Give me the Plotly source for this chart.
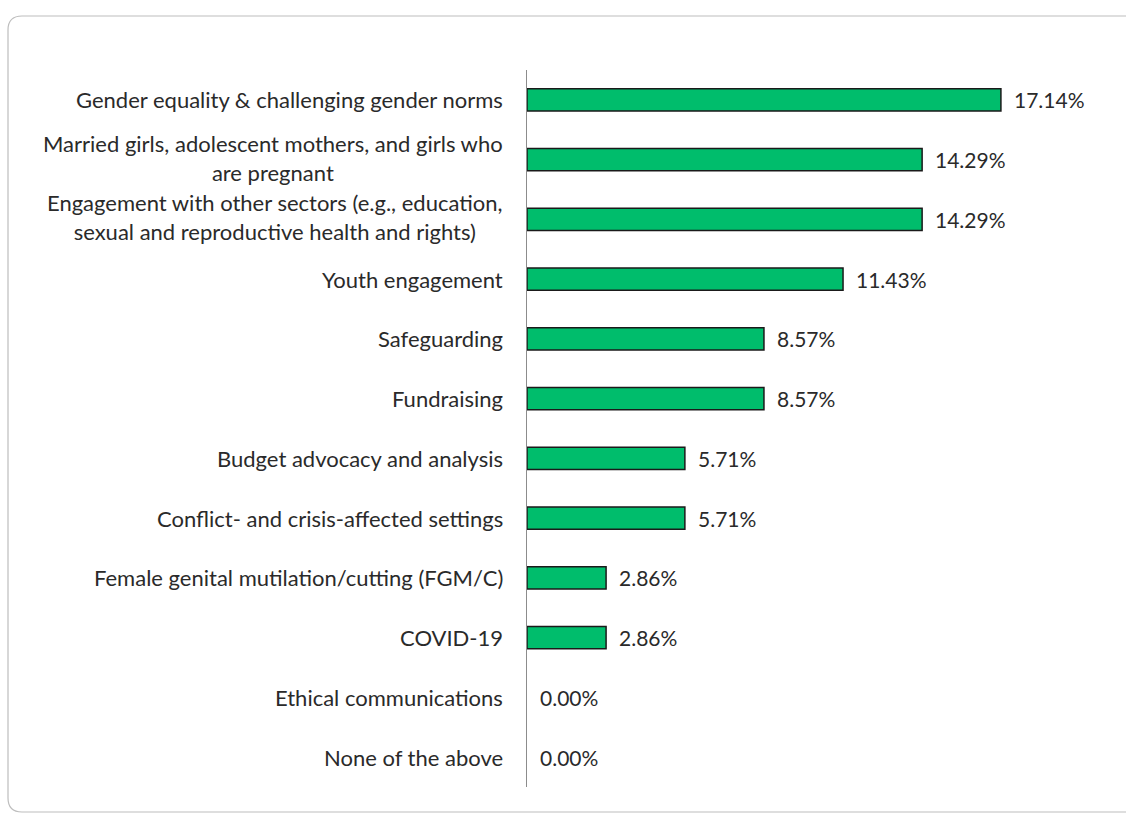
import plotly.graph_objects as go

# Survey topics (top to bottom) and share of respondents
categories = [
    "Gender equality & challenging gender norms",
    "Married girls, adolescent mothers, and girls who<br>are pregnant",
    "Engagement with other sectors (e.g., education,<br>sexual and reproductive health and rights)",
    "Youth engagement",
    "Safeguarding",
    "Fundraising",
    "Budget advocacy and analysis",
    "Conflict- and crisis-affected settings",
    "Female genital mutilation/cutting (FGM/C)",
    "COVID-19",
    "Ethical communications",
    "None of the above",
]
values = [17.14, 14.29, 14.29, 11.43, 8.57, 8.57, 5.71, 5.71, 2.86, 2.86, 0.00, 0.00]

W, H = 1126, 817
L, R, T, B = 527, 26, 70, 30
FONT = "Lato"
TXT = "#2a2a2a"
FS = 22

ids = list(range(len(categories)))

fig = go.Figure(
    go.Bar(
        x=values,
        y=ids,
        orientation="h",
        marker=dict(
            color="#00BD6C",
            # no outline on empty bars
            line=dict(color="#1a1a1a", width=[1.5 if v > 0 else 0 for v in values]),
        ),
        width=0.37,
        hoverinfo="skip",
    )
)

annotations = []
# category labels: right-aligned block, wrapped lines centred within it
for i, cat in enumerate(categories):
    multi = "<br>" in cat
    annotations.append(dict(
        x=0, xref="paper", xanchor="right", xshift=-22,
        y=i, yref="y", yanchor="middle", yshift=2 if multi else 0,
        text=cat, align="center", showarrow=False,
        font=dict(family=FONT, size=FS, color=TXT),
    ))
# value labels
for i, v in enumerate(values):
    annotations.append(dict(
        x=v, xref="x", xanchor="left", xshift=11,
        y=i, yref="y", yanchor="middle",
        text=f"{v:.2f}%", showarrow=False,
        font=dict(family=FONT, size=FS - 1, color=TXT),
    ))

# rounded frame around the chart, in paper coordinates
pw, ph = W - L - R, H - T - B
def px(x):
    return (x - L) / pw
def py(y):
    return (H - B - y) / ph
x0, x1, y0, y1, r = 8, 1150, 16, 812, 14
frame = (
    f"M {px(x0 + r)},{py(y0)} L {px(x1 - r)},{py(y0)} "
    f"Q {px(x1)},{py(y0)} {px(x1)},{py(y0 + r)} L {px(x1)},{py(y1 - r)} "
    f"Q {px(x1)},{py(y1)} {px(x1 - r)},{py(y1)} L {px(x0 + r)},{py(y1)} "
    f"Q {px(x0)},{py(y1)} {px(x0)},{py(y1 - r)} L {px(x0)},{py(y0 + r)} "
    f"Q {px(x0)},{py(y0)} {px(x0 + r)},{py(y0)} Z"
)

fig.update_layout(
    width=W, height=H,
    margin=dict(l=L, r=R, t=T, b=B),
    paper_bgcolor="white", plot_bgcolor="white",
    showlegend=False,
    annotations=annotations,
    shapes=[dict(type="path", path=frame, xref="paper", yref="paper",
                 line=dict(color="#BDBDBD", width=1.2), layer="below")],
    xaxis=dict(range=[0, pw / 27.65], showgrid=False, zeroline=False,
               showticklabels=False, ticks="", showline=False, fixedrange=True),
    yaxis=dict(range=[len(categories) - 0.5, -0.5], showgrid=False, zeroline=False,
               showticklabels=False, ticks="", showline=True,
               linecolor="#8C8C8C", linewidth=1, fixedrange=True),
)

fig.write_html("out.html", config={"displayModeBar": False})
